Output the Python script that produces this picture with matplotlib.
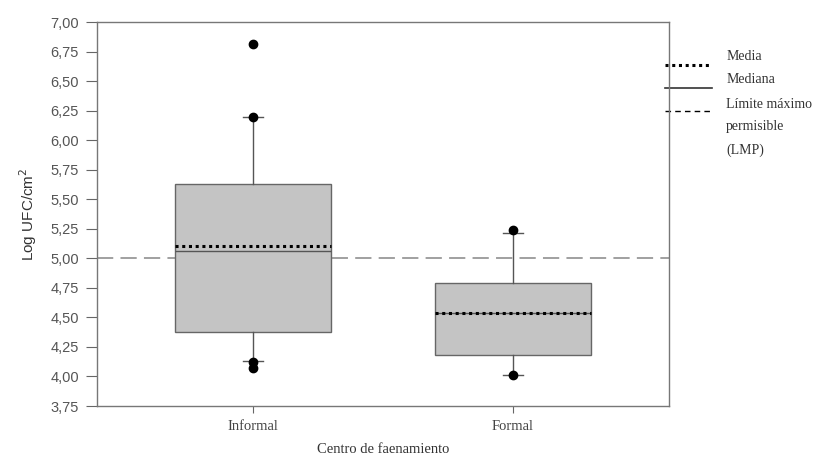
import matplotlib.pyplot as plt
import numpy as np
from matplotlib.ticker import FuncFormatter

# Box statistics
groups = ['Informal', 'Formal']
q1 = [4.38, 4.18]
q3 = [5.63, 4.79]
medians = [5.06, 4.54]
means = [5.10, 4.54]
whisker_low = [4.13, 4.01]
whisker_high = [6.20, 5.21]
outliers = [[6.81, 6.20, 4.12, 4.07], [5.24, 4.01]]
lmp = 5.00

serif = 'Liberation Serif'
sans = 'Liberation Sans'

fig, ax = plt.subplots(figsize=(8.31, 4.55), dpi=100)
fig.subplots_adjust(left=97/831, right=669/831, top=1-22/455, bottom=1-406/455)

positions = np.arange(1, len(groups) + 1)

# Limit line behind boxes
ax.axhline(lmp, color='#999999', linewidth=1.3, dashes=(9, 4), zorder=1)

stats = []
for i in range(len(groups)):
    stats.append({'q1': q1[i], 'q3': q3[i], 'med': medians[i], 'mean': means[i],
                  'whislo': whisker_low[i], 'whishi': whisker_high[i],
                  'fliers': outliers[i]})

ax.bxp(stats, positions=positions, widths=0.6, patch_artist=True,
       showmeans=True, meanline=True, capwidths=0.08,
       boxprops=dict(facecolor='#c4c4c4', edgecolor='#666666', linewidth=1.0),
       medianprops=dict(color='#555555', linewidth=1.0),
       meanprops=dict(color='black', linestyle=(0, (1, 1.2)), linewidth=2.2),
       whiskerprops=dict(color='#555555', linewidth=1.0),
       capprops=dict(color='#555555', linewidth=1.0),
       flierprops=dict(marker='o', markerfacecolor='black', markeredgecolor='black',
                       markersize=6))

ax.set_xlim(0.4, 2.6)
ax.set_ylim(3.75, 7.00)
ax.set_yticks(np.arange(3.75, 7.01, 0.25))
ax.yaxis.set_major_formatter(FuncFormatter(lambda v, p: f'{v:.2f}'.replace('.', ',')))
ax.set_xticks(positions)
ax.set_xticklabels(groups, fontfamily=serif, fontsize=10.5, color='#444444')

for lab in ax.get_yticklabels():
    lab.set_fontfamily(sans)
    lab.set_fontsize(10.5)
    lab.set_color('#555555')

ax.tick_params(axis='y', direction='out', length=8, color='#666666', pad=5)
ax.tick_params(axis='x', direction='out', length=5, color='#666666', pad=5)

for s in ax.spines.values():
    s.set_color('#777777')
    s.set_linewidth(1.0)

ax.set_ylabel('Log UFC/cm$^2$', fontfamily=sans, fontsize=11, color='#333333', labelpad=8)
ax.set_xlabel('Centro de faenamiento', fontfamily=serif, fontsize=10.5, color='#333333', labelpad=7)

# Legend drawn by hand outside the axes
tr = ax.transAxes
lx0, lx1, tx = 0.993, 1.075, 1.100
ax.plot([lx0, lx1], [0.888, 0.888], transform=tr, clip_on=False,
        color='black', linestyle=(0, (1, 1.2)), linewidth=2.2)
ax.plot([lx0, lx1], [0.828, 0.828], transform=tr, clip_on=False,
        color='#333333', linewidth=1.2)
ax.plot([lx0, lx1], [0.768, 0.768], transform=tr, clip_on=False,
        color='black', dashes=(4, 3), linewidth=1.0)
legend_text = [('Media', 0.911), ('Mediana', 0.849), ('Límite máximo', 0.786),
               ('permisible', 0.727), ('(LMP)', 0.667)]
for t, y in legend_text:
    ax.text(tx, y, t, transform=tr, fontfamily=serif, fontsize=10, color='#333333',
            va='center', ha='left')

plt.savefig('out.png', dpi=100)
